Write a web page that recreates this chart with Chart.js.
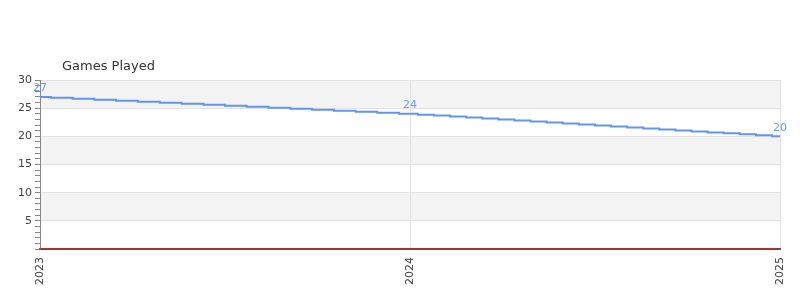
<!DOCTYPE html>
<html>
<head>
<meta charset="utf-8">
<script src="https://cdn.jsdelivr.net/npm/chart.js@4/dist/chart.umd.min.js"></script>
<style>
html,body{margin:0;padding:0;background:#fff;}
#wrap{width:800px;height:300px;position:relative;}
</style>
</head>
<body>
<div id="wrap"><canvas id="c" width="800" height="300"></canvas></div>
<script>
const chartTitle = "Games Played";
// x positions as fractional years
const xValues = [
  2023.000, 2023.059, 2023.118, 2023.176, 2023.235, 2023.294, 2023.353, 2023.412, 2023.471,
  2023.529, 2023.588, 2023.647, 2023.706, 2023.765, 2023.824, 2023.882, 2023.941, 2024.000,
  2024.043, 2024.087, 2024.130, 2024.174, 2024.217, 2024.261, 2024.304, 2024.348, 2024.391,
  2024.435, 2024.478, 2024.522, 2024.565, 2024.609, 2024.652, 2024.696, 2024.739, 2024.783,
  2024.826, 2024.870, 2024.913, 2024.957, 2025.000
];
const gamesPlayed = [
  27.00, 26.83, 26.65, 26.48, 26.30, 26.13, 25.95, 25.78, 25.60,
  25.43, 25.25, 25.08, 24.90, 24.73, 24.55, 24.38, 24.20, 24.03,
  23.85, 23.68, 23.50, 23.33, 23.15, 22.98, 22.80, 22.63, 22.45,
  22.28, 22.10, 21.93, 21.75, 21.58, 21.40, 21.23, 21.05, 20.88,
  20.70, 20.53, 20.35, 20.18, 20.00
];
const labeledIndices = [0, 17, 40];
const xTicks = [2023, 2024, 2025];
const yTickLabels = [5, 10, 15, 20, 25, 30];
const bands = [[25, 30], [15, 20], [5, 10]];
const baselineX = [2023, 2025];
const baselineY = [0, 0];

const FONT = "'DejaVu Sans', sans-serif";

const bandPlugin = {
  id: 'bands',
  beforeDraw(chart) {
    const {ctx, chartArea: a, scales: {y}} = chart;
    ctx.save();
    ctx.fillStyle = '#f3f3f3';
    bands.forEach(([lo, hi]) => {
      const yt = y.getPixelForValue(hi), yb = y.getPixelForValue(lo);
      ctx.fillRect(a.left, yt, a.right - a.left, yb - yt);
    });
    ctx.restore();
  }
};

const titlePlugin = {
  id: 'ttl',
  afterDraw(chart) {
    const {ctx, chartArea: a} = chart;
    ctx.save();
    ctx.font = "13px " + FONT;
    ctx.fillStyle = '#333';
    ctx.textAlign = 'left';
    ctx.textBaseline = 'middle';
    ctx.fillText(chartTitle, a.left + 22, a.top - 13);
    ctx.restore();
  }
};

const labelPlugin = {
  id: 'vlabels',
  afterDatasetsDraw(chart) {
    const {ctx} = chart;
    const meta = chart.getDatasetMeta(0);
    ctx.save();
    ctx.font = "11px " + FONT;
    ctx.fillStyle = '#6f9eea';
    ctx.textAlign = 'center';
    ctx.textBaseline = 'bottom';
    labeledIndices.forEach(i => {
      const p = meta.data[i];
      ctx.fillText(String(Math.round(gamesPlayed[i])), p.x, p.y - 3);
    });
    ctx.restore();
  }
};

new Chart(document.getElementById('c'), {
  type: 'line',
  data: {
    datasets: [
      {
        label: chartTitle,
        data: xValues.map((x, i) => ({x, y: gamesPlayed[i]})),
        borderColor: '#6495ed',
        borderWidth: 2,
        pointRadius: 0,
        stepped: 'middle',
        fill: false
      },
      {
        label: 'baseline',
        data: baselineX.map((x, i) => ({x, y: baselineY[i]})),
        borderColor: '#e00000',
        borderWidth: 1,
        pointRadius: 0,
        clip: false
      }
    ]
  },
  options: {
    responsive: false,
    animation: false,
    layout: {padding: {top: 80, right: 20, left: 0, bottom: 0}},
    plugins: {legend: {display: false}, tooltip: {enabled: false}, title: {display: false}},
    scales: {
      x: {
        type: 'linear',
        min: 2023, max: 2025,
        afterBuildTicks(scale) { scale.ticks = xTicks.map(v => ({value: v})); },
        afterFit(scale) { scale.height = 51; scale.paddingLeft = 0; scale.paddingRight = 0; },
        border: {display: true, color: '#666', width: 2},
        grid: {color: '#e3e3e3', drawTicks: false, lineWidth: 1},
        ticks: {
          minRotation: 90, maxRotation: 90, padding: 8,
          font: {family: FONT, size: 11}, color: '#444',
          callback: v => String(v)
        }
      },
      y: {
        min: 0, max: 30,
        afterFit(scale) { scale.width = 40; scale.paddingTop = 0; scale.paddingBottom = 0; },
        border: {display: true, color: '#888', width: 1},
        grid: {
          color: ctx => (ctx.tick && ctx.tick.value % 5 === 0 && ctx.tick.value !== 0) ? '#e3e3e3' : 'rgba(0,0,0,0)',
          tickColor: '#888',
          tickLength: 5,
          drawTicks: true
        },
        ticks: {
          stepSize: 1, autoSkip: false, padding: 3,
          font: {family: FONT, size: 11}, color: '#444',
          callback: v => (v % 5 === 0 && v !== 0 && yTickLabels.includes(v)) ? String(v) : ''
        }
      }
    }
  },
  plugins: [bandPlugin, titlePlugin, labelPlugin]
});
</script>
</body>
</html>
